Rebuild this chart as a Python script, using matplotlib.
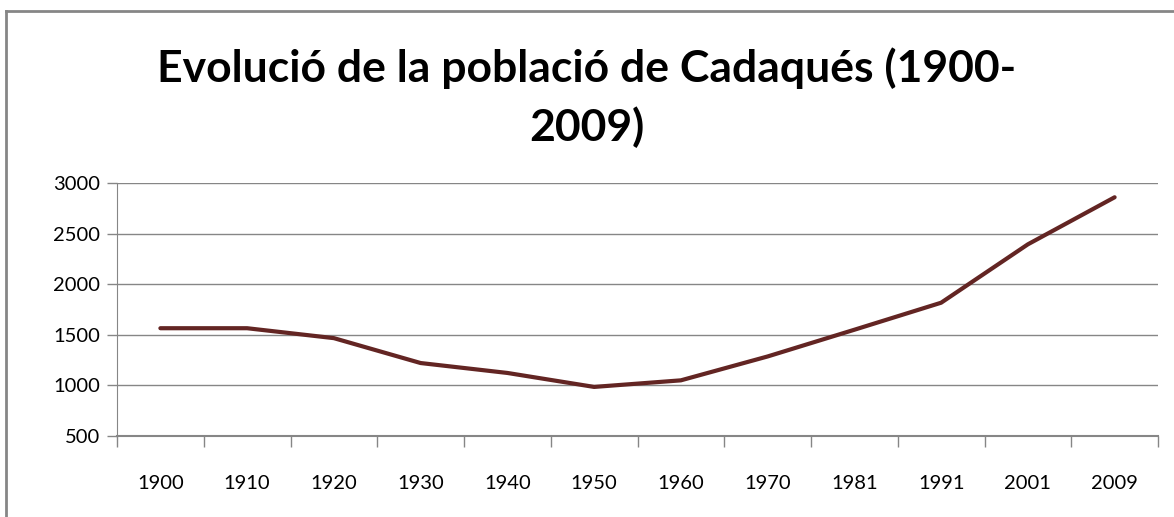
import matplotlib.pyplot as plt
from matplotlib.lines import Line2D

# data
years = ['1900', '1910', '1920', '1930', '1940', '1950',
         '1960', '1970', '1981', '1991', '2001', '2009']
population = [1565, 1565, 1467, 1221, 1123, 985,
              1050, 1286, 1550, 1817, 2394, 2859]
yticks = [500, 1000, 1500, 2000, 2500, 3000]

plt.rcParams['font.family'] = ['Lato', 'DejaVu Sans']

fig = plt.figure(figsize=(11.74, 5.17), dpi=100)
ax = fig.add_axes([117 / 1174, 1 - 436 / 517, (1158 - 117) / 1174, (436 - 183) / 517])

x = list(range(len(years)))
ax.plot(x, population, color='#632523', linewidth=3, solid_capstyle='round',
        solid_joinstyle='round', zorder=3)

ax.set_xlim(-0.5, len(years) - 0.5)
ax.set_ylim(500, 3000)
ax.set_yticks(yticks)
ax.set_yticklabels([str(v) for v in yticks], fontsize=14.5)
ax.yaxis.grid(True, color='#868686', linewidth=1)
ax.set_axisbelow(True)

# category axis: labels centred, tick marks between categories
ax.set_xticks(x)
ax.set_xticklabels(years, fontsize=14.5)
ax.tick_params(axis='x', which='major', length=0, pad=28)
ax.set_xticks([i - 0.5 for i in range(len(years) + 1)], minor=True)
ax.tick_params(axis='x', which='minor', length=8, color='#868686', width=1, direction='out')
ax.tick_params(axis='y', length=7, color='#868686', width=1, pad=5)

for side in ['top', 'right']:
    ax.spines[side].set_visible(False)
ax.spines['left'].set_color('#868686')
ax.spines['bottom'].set_color('#868686')
ax.spines['bottom'].set_linewidth(1.5)

fig.text(0.5, 1 - 98 / 517, 'Evolució de la població de Cadaqués (1900-\n2009)',
         ha='center', va='center', fontsize=32, fontweight='bold',
         linespacing=1.5)

# chart frame (top and left edges visible)
fig.add_artist(Line2D([6 / 1174, 6 / 1174], [0, 1 - 11 / 517], transform=fig.transFigure,
                      color='#868686', linewidth=2))
fig.add_artist(Line2D([6 / 1174, 1], [1 - 11 / 517, 1 - 11 / 517], transform=fig.transFigure,
                      color='#868686', linewidth=2))

fig.savefig('out.png', dpi=100, facecolor='white')
